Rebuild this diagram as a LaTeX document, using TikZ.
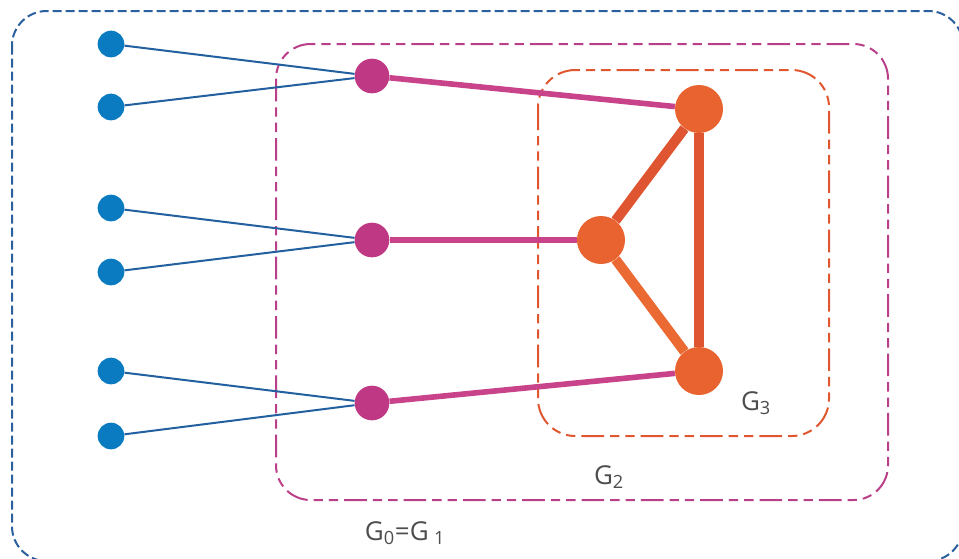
\documentclass[tikz,border=0pt]{standalone}
\usepackage{fontspec}
\setmainfont{Open Sans}
\usetikzlibrary{calc}

\definecolor{leafblue}{HTML}{0B7BC1}
\definecolor{edgeblue}{HTML}{22609F}
\definecolor{frameblue}{HTML}{2B609E}
\definecolor{midpink}{HTML}{BE3883}
\definecolor{edgepink}{HTML}{C8438A}
\definecolor{framepink}{HTML}{B93F88}
\definecolor{coreorange}{HTML}{E8632F}
\definecolor{edgeorange}{HTML}{E05531}
\definecolor{edgeorangelt}{HTML}{EB6A33}
\definecolor{frameorange}{HTML}{E0572F}
\definecolor{labelgray}{HTML}{4D4D4D}

\tikzset{
    leaf/.style={circle, fill=leafblue, inner sep=0pt, minimum size=20pt},
    hub/.style={circle, fill=midpink, inner sep=0pt, minimum size=26pt},
    core/.style={circle, fill=coreorange, inner sep=0pt, minimum size=36pt},
    glabel/.style={text=labelgray, inner sep=0pt, font=\fontsize{19.5}{22}\selectfont},
    dashdotdot/.style={dash pattern=on 17pt off 4.5pt on 7pt off 4.5pt on 7pt off 4.5pt}
}

\begin{document}
\begin{tikzpicture}[x=0.75pt, y=-0.75pt]

    % 画布范围
    \clip (0,0) rectangle (959,558);

    % 绘制外框 G0=G1
    \draw[frameblue, line width=1.5pt, dash pattern=on 6.75pt off 3pt, rounded corners=26pt]
        (12,11) rectangle (963,561);
    % 绘制中框 G2
    \draw[framepink, line width=1.5pt, dashdotdot, rounded corners=26pt]
        (276,44) rectangle (888,500);
    % 绘制内框 G3
    \draw[frameorange, line width=1.5pt, dashdotdot, rounded corners=28pt]
        (538,70) rectangle (829,436);

    % 绘制点
    \node[leaf] (L1) at (111,44) {};
    \node[leaf] (L2) at (111,107) {};
    \node[leaf] (L3) at (111,208) {};
    \node[leaf] (L4) at (111,272) {};
    \node[leaf] (L5) at (111,371) {};
    \node[leaf] (L6) at (111,436) {};

    \node[hub] (H1) at (372,76) {};
    \node[hub] (H2) at (372,240) {};
    \node[hub] (H3) at (372,403) {};

    \node[core] (CT) at (699,109) {};
    \node[core] (CM) at (601,240) {};
    \node[core] (CB) at (699,371) {};

    % 绘制线段
    \draw[edgeblue, line width=1.5pt] (L1) -- (H1);
    \draw[edgeblue, line width=1.5pt] (L2) -- (H1);
    \draw[edgeblue, line width=1.5pt] (L3) -- (H2);
    \draw[edgeblue, line width=1.5pt] (L4) -- (H2);
    \draw[edgeblue, line width=1.5pt] (L5) -- (H3);
    \draw[edgeblue, line width=1.5pt] (L6) -- (H3);

    \draw[edgepink, line width=4.2pt] (H1) -- (CT);
    \draw[edgepink, line width=4.2pt] (H2) -- (CM);
    \draw[edgepink, line width=4.2pt] (H3) -- (CB);

    \draw[edgeorange, line width=7.5pt] (CM) -- (CT);
    \draw[edgeorangelt, line width=7.5pt] (CM) -- (CB);
    \draw[edgeorange, line width=7.5pt] (CT) -- (CB);

    % 标注
    \node[glabel] (g01) at (405,533) {G\textsubscript{0}=G\hspace{4pt}\textsubscript{1}};
    \node[glabel] (g2) at (609,477) {G\textsubscript{2}};
    \node[glabel] (g3) at (756,403) {G\textsubscript{3}};

\end{tikzpicture}
\end{document}
